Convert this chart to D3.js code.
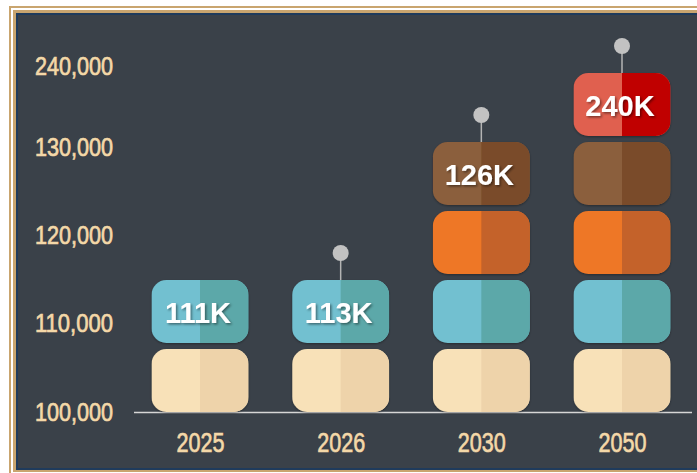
<!DOCTYPE html>
<html>
<head>
<meta charset="utf-8">
<script src="https://cdn.jsdelivr.net/npm/d3@7"></script>
<style>
  html, body { margin: 0; padding: 0; background: #ffffff; }
  svg { display: block; }
</style>
</head>
<body>
<svg id="chart" width="697" height="473"></svg>
<script>
// Projection years and headline values
const categories = ["2025", "2026", "2030", "2050"];
const values = [111000, 113000, 126000, 240000];
// Number of stacked tiers reached in each year
const tierCounts = [2, 2, 4, 5];
// Whether a marker pin sits on top of the stack
const showPin = [false, true, true, true];
// Axis tick values
const yTicks = [100000, 110000, 120000, 130000, 240000];

// Two-tone fill for each tier (light left half, dark right half)
const tierColors = [
  ["#f8e1b8", "#eed3aa"],
  ["#72c0d0", "#5ba8a9"],
  ["#ee7726", "#c4622b"],
  ["#8b5e3c", "#7a4c2b"],
  ["#e06050", "#c00000"]
];

const svg = d3.select("#chart");
const condensedFont = "'Liberation Sans', Arial, sans-serif";
const labelColor = "#f4d8a8";

// Frame: outer rule, inner tan band, navy edge, slate panel
svg.append("rect").attr("x", 10).attr("y", 7).attr("width", 700).attr("height", 480)
  .attr("fill", "none").attr("stroke", "#c9a56f").attr("stroke-width", 2);
svg.append("rect").attr("x", 13).attr("y", 10).attr("width", 700).attr("height", 462).attr("fill", "#c9a56f");
svg.append("rect").attr("x", 16).attr("y", 13).attr("width", 700).attr("height", 457).attr("fill", "#1f3b5c");
svg.append("rect").attr("x", 18).attr("y", 15).attr("width", 700).attr("height", 453).attr("fill", "#3a4149");

const defs = svg.append("defs");
const sh = defs.append("filter").attr("id", "txtShadow")
  .attr("x", "-20%").attr("y", "-20%").attr("width", "140%").attr("height", "140%");
sh.append("feDropShadow").attr("dx", 1.5).attr("dy", 1.5).attr("stdDeviation", 1.2)
  .attr("flood-color", "#000").attr("flood-opacity", 0.45);
const bsh = defs.append("filter").attr("id", "blockShadow")
  .attr("x", "-10%").attr("y", "-10%").attr("width", "120%").attr("height", "130%");
bsh.append("feDropShadow").attr("dx", 0).attr("dy", 1).attr("stdDeviation", 0.8)
  .attr("flood-color", "#000").attr("flood-opacity", 0.35);

const baseline = 412;
const blockW = 97, blockH = 63, tierStep = 69, radius = 15;

// Horizontal position of each year
const x = d3.scalePoint().domain(categories).range([200, 622]);
// Vertical position of each tier (bottom edge)
const tierY = d3.scaleLinear().domain([0, 5]).range([baseline, baseline - 5 * tierStep]);
// Axis scale with a break above 130,000
const y = d3.scaleLinear().domain([100000, 130000, 240000]).range([411, 146, 65]);

// Y axis labels (narrowed to a condensed width)
const yAxis = d3.axisLeft(y).tickValues(yTicks).tickSize(0).tickPadding(0)
  .tickFormat(d3.format(","));
const yg = svg.append("g").attr("transform", "translate(113,0)").call(yAxis);
yg.select(".domain").remove();
yg.selectAll("text")
  .attr("fill", labelColor)
  .attr("stroke", labelColor)
  .attr("stroke-width", 0.7)
  .attr("font-family", condensedFont)
  .attr("font-size", 25)
  .attr("dy", "0.36em")
  .attr("textLength", 78)
  .attr("lengthAdjust", "spacingAndGlyphs");

// Baseline
svg.append("line").attr("x1", 134).attr("x2", 692).attr("y1", baseline + 0.5).attr("y2", baseline + 0.5)
  .attr("stroke", "#d6d6d6").attr("stroke-width", 1.5);

// X axis labels
const xAxis = d3.axisBottom(x).tickSize(0).tickPadding(0);
const xg = svg.append("g").attr("transform", `translate(0,${baseline})`).call(xAxis);
xg.select(".domain").remove();
xg.selectAll("text")
  .attr("fill", labelColor)
  .attr("stroke", labelColor)
  .attr("stroke-width", 0.7)
  .attr("font-family", condensedFont)
  .attr("font-size", 27.5)
  .attr("y", 40)
  .attr("dy", 0)
  .attr("textLength", 48)
  .attr("lengthAdjust", "spacingAndGlyphs");

// Rounded two-tone tiers
const stacks = svg.append("g");
categories.forEach((cat, i) => {
  const cx = x(cat);
  for (let t = 0; t < tierCounts[i]; t++) {
    const bottom = tierY(t);
    const top = bottom - blockH;
    const clipId = `clip-${i}-${t}`;
    defs.append("clipPath").attr("id", clipId)
      .append("rect").attr("x", cx - blockW / 2).attr("y", top)
      .attr("width", blockW).attr("height", blockH).attr("rx", radius).attr("ry", radius);
    const g = stacks.append("g").attr("filter", "url(#blockShadow)");
    const inner = g.append("g").attr("clip-path", `url(#${clipId})`);
    inner.append("rect").attr("x", cx - blockW / 2).attr("y", top)
      .attr("width", blockW).attr("height", blockH).attr("fill", tierColors[t][0]);
    inner.append("rect").attr("x", cx).attr("y", top)
      .attr("width", blockW / 2).attr("height", blockH).attr("fill", tierColors[t][1]);
  }

  const topTier = tierCounts[i] - 1;
  const topEdge = tierY(topTier) - blockH;

  // Marker pin
  if (showPin[i]) {
    svg.append("line").attr("x1", cx).attr("x2", cx)
      .attr("y1", topEdge - 27).attr("y2", topEdge)
      .attr("stroke", "#b4b4b4").attr("stroke-width", 1.5);
    svg.append("circle").attr("cx", cx).attr("cy", topEdge - 27).attr("r", 8)
      .attr("fill", "#c2c2c2");
  }

  // Value label on the top tier
  svg.append("text")
    .attr("x", cx - 2)
    .attr("y", topEdge + blockH / 2 + 11.5)
    .attr("text-anchor", "middle")
    .attr("font-family", "'Liberation Sans', Arial, sans-serif")
    .attr("font-weight", "bold")
    .attr("font-size", 29)
    .attr("fill", "#ffffff")
    .attr("filter", "url(#txtShadow)")
    .text(d3.format(".0f")(values[i] / 1000) + "K");
});
</script>
</body>
</html>
